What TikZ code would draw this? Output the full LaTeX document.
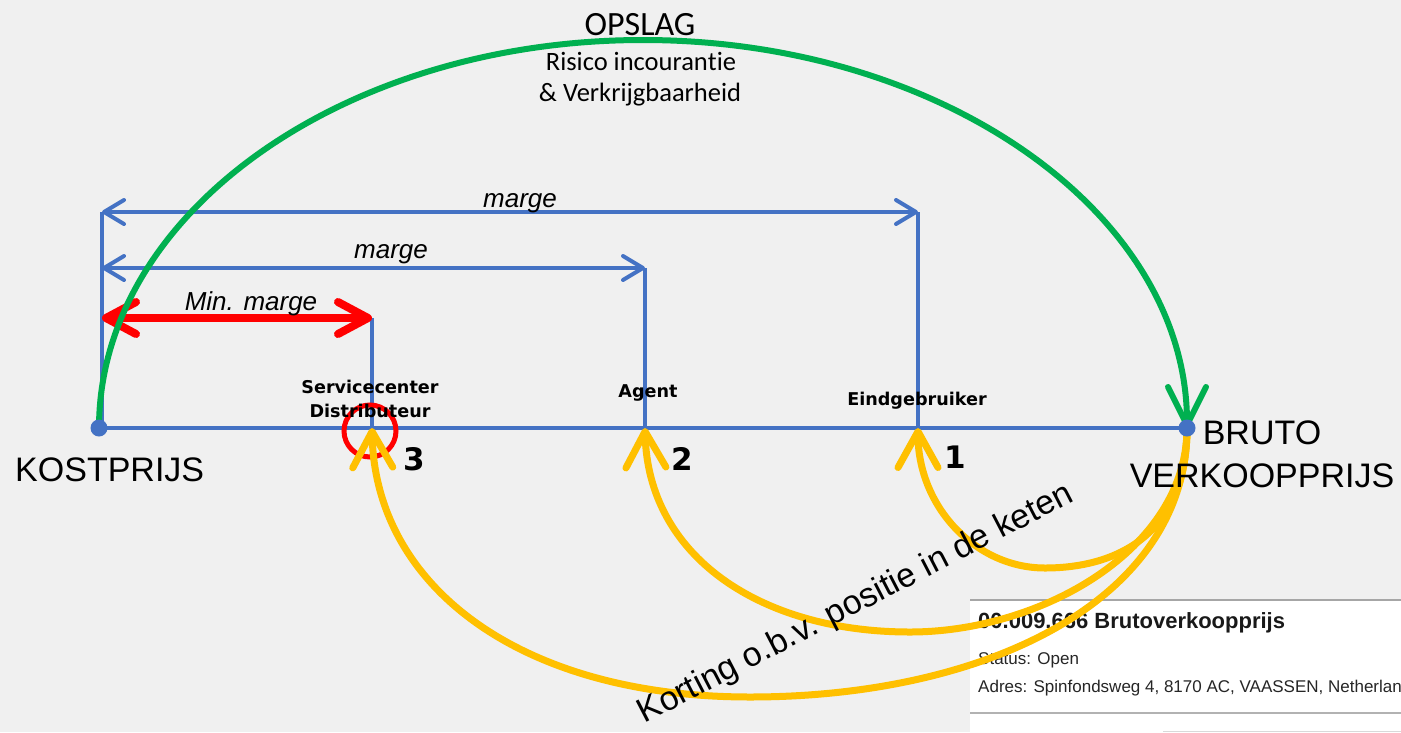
\documentclass[tikz,border=0pt]{standalone}
\usepackage{fontspec}
\setmainfont{Liberation Sans}
\newfontfamily\calibrifont[Ligatures=NoCommon]{Carlito}
\newfontfamily\dejafont{DejaVu Sans}
\usetikzlibrary{arrows.meta}
\definecolor{bgc}{HTML}{F0F0F0}
\definecolor{blu}{HTML}{4472C4}
\definecolor{grn}{HTML}{00B050}
\definecolor{ylw}{HTML}{FFC000}
\definecolor{rd}{HTML}{FF0000}
\begin{document}
\begin{tikzpicture}[x=1pt,y=-1pt,
  blueline/.style={draw=blu,line width=4pt},
  bluearr/.style={blueline,{Straight Barb[length=20pt,width=24pt,round]}-{Straight Barb[length=20pt,width=24pt,round]}},
  redarr/.style={draw=rd,line width=8pt,{Straight Barb[length=30pt,width=32pt,round]}-{Straight Barb[length=30pt,width=32pt,round]}},
  greenarr/.style={draw=grn,line width=6pt,-{Straight Barb[length=38pt,width=38pt,round]}},
  yellowarr/.style={draw=ylw,line width=7pt,-{Straight Barb[length=36pt,width=40pt,round]}},
  big/.style={font=\fontsize{34}{40}\selectfont,inner sep=0pt},
  margelbl/.style={font=\fontsize{26}{30}\selectfont\itshape,inner sep=0pt,anchor=base},
  poslbl/.style={font=\dejafont\bfseries\fontsize{17.6}{20}\selectfont,inner sep=0pt,anchor=base},
  numlbl/.style={font=\dejafont\bfseries\fontsize{31}{36}\selectfont,inner sep=0pt,anchor=base west},
  opslbl/.style={font=\calibrifont\fontsize{26.5}{30}\selectfont,inner sep=0pt,anchor=base},
  dotc/.style={circle,fill=blu,minimum size=17pt,inner sep=0pt}
]
\useasboundingbox (0,0) rectangle (1401,732);
\fill[bgc] (0,0) rectangle (1401,732);

% coordinates
\coordinate (k) at (99,428);
\coordinate (b) at (1187,428);
\coordinate (k0) at (102,428);
\coordinate (s) at (372,428);
\coordinate (a) at (645,428);
\coordinate (e) at (918,428);
\coordinate (k1) at (102,212);
\coordinate (e1) at (918,212);
\coordinate (k2) at (102,268);
\coordinate (a1) at (645,268);
\coordinate (k3) at (102,318);
\coordinate (s1) at (372,318);
\coordinate (gtop) at (643,40);
\coordinate (y1) at (1045,568);
\coordinate (y2) at (910,632);
\coordinate (y3) at (750,697);

% screenshot panel
\fill[white] (970,600) rectangle (1401,732);
\draw[black!35,line width=1.5pt] (970,600) -- (1401,600);
\draw[black!30,line width=1.5pt] (970,713) -- (1401,713);
\draw[black!15,line width=1pt] (1163,731) -- (1401,731);
\begin{scope}
\clip (970,600) rectangle (1401,732);
\node[font=\bfseries\fontsize{22}{26}\selectfont,inner sep=0pt,anchor=base west,text=black!90] (ptitle) at (978,628) {00.009.666 Brutoverkoopprijs};
\node[font=\fontsize{17}{20}\selectfont,inner sep=0pt,anchor=base west,text=black!85] (pstatus) at (978,664) {Status: Open};
\node[font=\fontsize{17}{20}\selectfont,inner sep=0pt,anchor=base west,text=black!85] (padres) at (978,692) {Adres: Spinfondsweg 4, 8170 AC, VAASSEN, Netherlands};
\end{scope}

% blue lines
\draw[blueline] (k) -- (b);
\draw[blueline] (k0) -- (k1);
\draw[blueline] (e) -- (e1);
\draw[blueline] (a) -- (a1);
\draw[blueline] (s) -- (s1);
\draw[bluearr] (k1) -- (e1);
\draw[bluearr] (k2) -- (a1);

% red min marge
\draw[redarr] (k3) -- (s1);

% green opslag arc
\draw[greenarr] (k) .. controls +(0,-214) and +(-300,0) .. (gtop) .. controls +(300,0) and +(0,-214) .. (b);

% red circle
\draw[rd,line width=5pt] (370,431) circle[radius=26];

% yellow arcs
\draw[yellowarr] (b) .. controls +(0,112) and +(65,0) .. (y1) .. controls +(-70,0) and +(0,78) .. (e);
\draw[yellowarr] (b) .. controls +(0,122) and +(130,0) .. (y2) .. controls +(-150,0) and +(3,128) .. (a);
\draw[yellowarr] (b) .. controls +(0,172) and +(237,0) .. (y3) .. controls +(-230,0) and +(3,158) .. (s);

% dots
\node[dotc] (kdot) at (k) {};
\node[dotc] (bdot) at (b) {};

% labels
\node[big,anchor=base west] (kl) at (15,481) {KOSTPRIJS};
\node[big,anchor=base] (bl1) at (1262,444) {BRUTO};
\node[big,anchor=base] (bl2) at (1262,487) {VERKOOPPRIJS};

\node[opslbl,font=\calibrifont\fontsize{34}{40}\selectfont] (ops) at (640,35) {OPSLAG};
\node[opslbl] (ops2) at (641,70) {Risico incouran\kern0pt t\kern0pt ie};
\node[opslbl] (ops3) at (640,101) {\& Verkrijgbaarheid};

\node[margelbl] (m1) at (520,207) {marge};
\node[margelbl] (m2) at (391,258) {marge};
\node[margelbl] (m3) at (251,310) {Min. marge};

\node[poslbl] (sc1) at (370,393) {Servicecenter};
\node[poslbl] (sc2) at (370,417) {Distributeur};
\node[poslbl] (ag) at (648,397) {Agent};
\node[poslbl] (eg) at (917,405) {Eindgebruiker};

\node[numlbl] (n3) at (403,470) {3};
\node[numlbl] (n2) at (671,470) {2};
\node[numlbl] (n1) at (944,468) {1};

\node[font=\fontsize{34}{40}\selectfont,inner sep=0pt,anchor=base,rotate=27.4] (kort) at (860,612) {Korting o.b.v. positie in de keten};
\end{tikzpicture}
\end{document}
